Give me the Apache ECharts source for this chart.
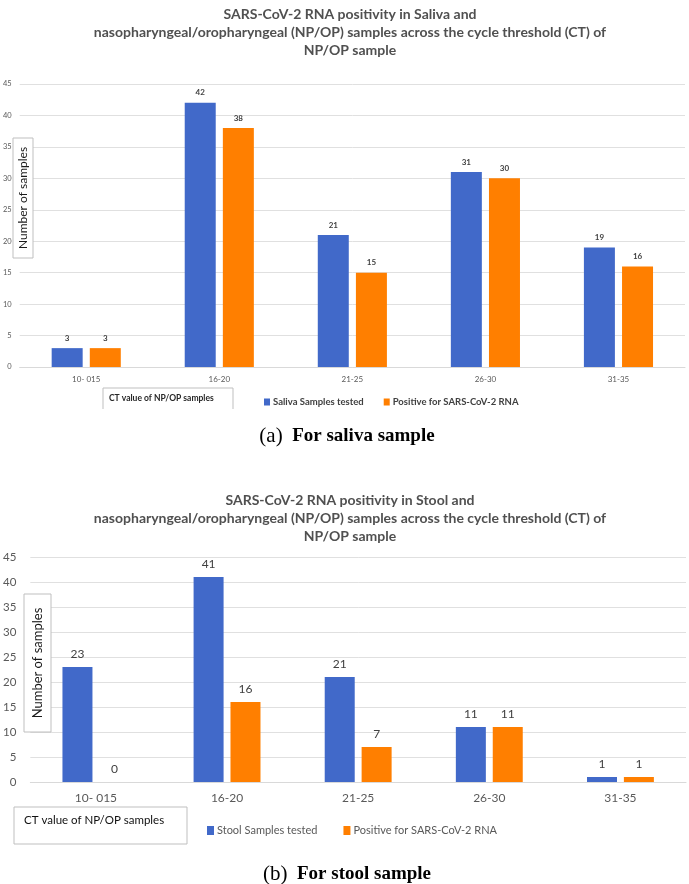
<!DOCTYPE html>
<html>
<head>
<meta charset="utf-8">
<script src="https://cdn.jsdelivr.net/npm/echarts@6/dist/echarts.min.js"></script>
<style>
  html, body { margin: 0; padding: 0; background: #fff; }
  #chart { width: 689px; height: 884px; }
</style>
</head>
<body>
<div id="chart"></div>
<script>
// categories (CT value ranges)
const categories = ['10- 015', '16-20', '21-25', '26-30', '31-35']
// panel (a) saliva
const salivaTested = [3, 42, 21, 31, 19]
const salivaPositive = [3, 38, 15, 30, 16]
// panel (b) stool
const stoolTested = [23, 41, 21, 11, 1]
const stoolPositive = [0, 16, 7, 11, 1]

const BLUE = '#4169c9'
const ORANGE = '#ff7f00'
const FONT = 'Lato'

const chart = echarts.init(document.getElementById('chart'))

function barSeries (name, data, color, idx, labelStyle, barWidth) {
  return {
    name: name,
    type: 'bar',
    xAxisIndex: idx,
    yAxisIndex: idx,
    data: data,
    barWidth: barWidth,
    barGap: '23%',
    itemStyle: { color: color },
    label: Object.assign({ show: true, position: 'top', fontFamily: FONT, color: '#404040' }, labelStyle)
  }
}

const titleStyle = { fontFamily: FONT, fontSize: 14, fontWeight: 'bold', color: '#505050', lineHeight: 18 }

chart.setOption({
  animation: false,
  title: [
    {
      text: 'SARS-CoV-2 RNA positivity in Saliva and\nnasopharyngeal/oropharyngeal (NP/OP) samples across the cycle threshold (CT) of\nNP/OP sample',
      left: 345,
      top: 0,
      textAlign: 'center',
      textStyle: titleStyle
    },
    {
      text: 'SARS-CoV-2 RNA positivity in Stool and\nnasopharyngeal/oropharyngeal (NP/OP) samples across the cycle threshold (CT) of\nNP/OP sample',
      left: 345,
      top: 486,
      textAlign: 'center',
      textStyle: titleStyle
    }
  ],
  legend: [
    {
      data: ['Saliva Samples tested', 'Positive for SARS-CoV-2 RNA'],
      left: 259,
      top: 392,
      itemWidth: 6,
      itemHeight: 7,
      itemGap: 20,
      icon: 'rect',
      textStyle: { fontFamily: FONT, fontSize: 9.5, fontWeight: 'bold', color: '#404040', padding: [0, 0, 0, -2] }
    },
    {
      data: ['Stool Samples tested', 'Positive for SARS-CoV-2 RNA'],
      left: 202,
      top: 820,
      itemWidth: 7,
      itemHeight: 9,
      itemGap: 26,
      icon: 'rect',
      textStyle: { fontFamily: FONT, fontSize: 11, color: '#595959', padding: [0, 0, 0, -2] }
    }
  ],
  grid: [
    { left: 17, right: 4, top: 84, height: 283 },
    { left: 29, right: 3, top: 557, height: 225 }
  ],
  xAxis: [
    {
      type: 'category', gridIndex: 0, data: categories,
      axisTick: { show: false },
      axisLine: { lineStyle: { color: '#d9d9d9' } },
      axisLabel: { fontFamily: FONT, fontSize: 8, color: '#595959', margin: 8 }
    },
    {
      type: 'category', gridIndex: 1, data: categories,
      axisTick: { show: false },
      axisLine: { lineStyle: { color: '#d9d9d9' } },
      axisLabel: { fontFamily: FONT, fontSize: 12, color: '#595959', margin: 10 }
    }
  ],
  yAxis: [
    {
      type: 'value', gridIndex: 0, min: 0, max: 45, interval: 5,
      axisLabel: { fontFamily: FONT, fontSize: 7.5, color: '#595959', margin: 8 },
      splitLine: { lineStyle: { color: '#e0e0e0' } }
    },
    {
      type: 'value', gridIndex: 1, min: 0, max: 45, interval: 5,
      axisLabel: { fontFamily: FONT, fontSize: 11.5, color: '#595959', margin: 14 },
      splitLine: { lineStyle: { color: '#e0e0e0' } }
    }
  ],
  series: [
    barSeries('Saliva Samples tested', salivaTested, BLUE, 0, { fontSize: 8, fontWeight: 'bold', distance: 6 }, 31),
    barSeries('Positive for SARS-CoV-2 RNA', salivaPositive, ORANGE, 0, { fontSize: 8, fontWeight: 'bold', distance: 6 }, 31),
    barSeries('Stool Samples tested', stoolTested, BLUE, 1, { fontSize: 12, distance: 7 }, 30),
    barSeries('Positive for SARS-CoV-2 RNA', stoolPositive, ORANGE, 1, { fontSize: 12, distance: 7 }, 30)
  ],
  graphic: [
    // y axis name box, panel (a)
    {
      type: 'rect', shape: { x: 13, y: 138, width: 20, height: 120 },
      style: { fill: '#fff', stroke: '#bfbfbf', lineWidth: 1 }, z: 10
    },
    {
      type: 'text', x: 23, y: 198, rotation: Math.PI / 2, z: 11,
      style: { text: 'Number of samples', fontFamily: FONT, fontSize: 12, fill: '#1a1a1a', align: 'center', verticalAlign: 'middle' }
    },
    // x axis name box, panel (a)
    {
      type: 'polyline', shape: { points: [[103, 409], [103, 388], [233, 388], [233, 409]] },
      style: { fill: null, stroke: '#bfbfbf', lineWidth: 1 }
    },
    {
      type: 'text', x: 109, y: 398,
      style: { text: 'CT value of NP/OP samples', fontFamily: FONT, fontSize: 8.5, fontWeight: 'bold', fill: '#262626', verticalAlign: 'middle' }
    },
    // caption (a)
    {
      type: 'text', x: 347, y: 436,
      style: {
        text: '{p|(a)}{b|  For saliva sample}',
        align: 'center', verticalAlign: 'middle',
        rich: {
          p: { fontFamily: 'Liberation Serif', fontSize: 21, fill: '#000' },
          b: { fontFamily: 'Liberation Serif', fontSize: 19, fontWeight: 'bold', fill: '#000' }
        }
      }
    },
    // y axis name box, panel (b)
    {
      type: 'rect', shape: { x: 24, y: 594, width: 27, height: 138 },
      style: { fill: '#fff', stroke: '#bfbfbf', lineWidth: 1 }, z: 10
    },
    {
      type: 'text', x: 37.5, y: 663, rotation: Math.PI / 2, z: 11,
      style: { text: 'Number of samples', fontFamily: FONT, fontSize: 13, fill: '#1a1a1a', align: 'center', verticalAlign: 'middle' }
    },
    // x axis name box, panel (b)
    {
      type: 'rect', shape: { x: 14, y: 807, width: 173, height: 37 },
      style: { fill: '#fff', stroke: '#bfbfbf', lineWidth: 1 }
    },
    {
      type: 'text', x: 24, y: 820,
      style: { text: 'CT value of NP/OP samples', fontFamily: FONT, fontSize: 11.5, fill: '#111', verticalAlign: 'middle' }
    },
    // caption (b)
    {
      type: 'text', x: 347, y: 874,
      style: {
        text: '{p|(b)}{b|  For stool sample}',
        align: 'center', verticalAlign: 'middle',
        rich: {
          p: { fontFamily: 'Liberation Serif', fontSize: 21, fill: '#000' },
          b: { fontFamily: 'Liberation Serif', fontSize: 19, fontWeight: 'bold', fill: '#000' }
        }
      }
    }
  ]
})
</script>
</body>
</html>
